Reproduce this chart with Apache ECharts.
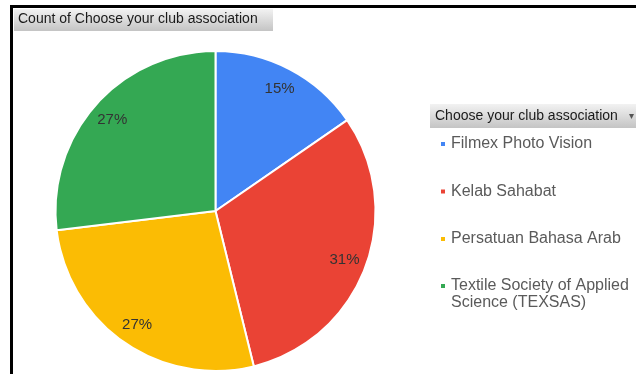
<!DOCTYPE html>
<html>
<head>
<meta charset="utf-8">
<script src="https://cdn.jsdelivr.net/npm/echarts@6/dist/echarts.min.js"></script>
<style>
html,body{margin:0;padding:0;background:#fff;}
#c{width:636px;height:374px;}
</style>
</head>
<body>
<div id="c"></div>
<script>
const title = 'Count of Choose your club association';
const legendTitle = 'Choose your club association';
const categories = ['Filmex Photo Vision', 'Kelab Sahabat', 'Persatuan Bahasa Arab', 'Textile Society of Applied Science (TEXSAS)'];
const counts = [4, 8, 7, 7];
const colors = ['#4285f4', '#ea4335', '#fbbc04', '#34a853'];

const chart = echarts.init(document.getElementById('c'), null, {renderer: 'canvas'});
const data = categories.map((n, i) => ({name: n, value: counts[i], itemStyle: {color: colors[i]}}));
const total = counts.reduce((a, b) => a + b, 0);

const grad = new echarts.graphic.LinearGradient(0, 0, 0, 1, [
  {offset: 0, color: '#f2f2f2'}, {offset: 1, color: '#c4c4c4'}
]);

const legendText = {color: '#5a5a5a', fontSize: 16, lineHeight: 17, fontFamily: '"Liberation Sans", Arial, sans-serif'};
const legendBase = {
  orient: 'vertical',
  left: 434,
  itemWidth: 6,
  itemHeight: 6,
  itemGap: 30.5,
  icon: 'rect',
  selectedMode: false,
  textStyle: legendText
};

chart.setOption({
  animation: false,
  graphic: [
    {type: 'rect', shape: {x: 11.5, y: 6.5, width: 700, height: 400}, style: {fill: 'none', stroke: '#000', lineWidth: 3}, z: 10},
    {type: 'rect', shape: {x: 14, y: 9, width: 259, height: 22}, style: {fill: grad}, z: 5},
    {type: 'text', left: 18, top: 12, style: {text: title, fill: '#1a1a1a', font: '14px "Liberation Sans", Arial, sans-serif'}, z: 6},
    {type: 'rect', shape: {x: 430, y: 104, width: 210, height: 24}, style: {fill: grad}, z: 5},
    {type: 'text', left: 435, top: 109, style: {text: legendTitle, fill: '#1a1a1a', font: '14px "Liberation Sans", Arial, sans-serif'}, z: 6},
    {type: 'text', left: 629, top: 111, style: {text: '\u25BE', fill: '#555', font: '10px "DejaVu Sans", sans-serif'}, z: 6}
  ],
  legend: [
    Object.assign({}, legendBase, {top: 130.5, data: categories.slice(0, 3)}),
    Object.assign({}, legendBase, {
      top: 255.5,
      data: categories.slice(3),
      formatter: name => '\nTextile Society of Applied\nScience (TEXSAS)'
    })
  ],
  series: [
    {
      type: 'pie',
      center: [215.5, 211],
      radius: 160,
      startAngle: 90,
      clockwise: true,
      avoidLabelOverlap: false,
      label: {show: false},
      labelLine: {show: false},
      itemStyle: {borderColor: '#fff', borderWidth: 2},
      emphasis: {disabled: true},
      data: data
    },
    {
      type: 'pie',
      center: [215.5, 211],
      radius: [110, 160],
      startAngle: 90,
      clockwise: true,
      silent: true,
      avoidLabelOverlap: false,
      legendHoverLink: false,
      itemStyle: {color: 'rgba(0,0,0,0)', borderWidth: 0},
      label: {
        show: true,
        position: 'inside',
        color: '#333',
        fontSize: 15,
        fontFamily: '"Liberation Sans", Arial, sans-serif',
        formatter: p => Math.round(p.value / total * 100) + '%'
      },
      labelLine: {show: false},
      emphasis: {disabled: true},
      data: categories.map((n, i) => ({name: n + ' ', value: counts[i]}))
    }
  ]
});
</script>
</body>
</html>
